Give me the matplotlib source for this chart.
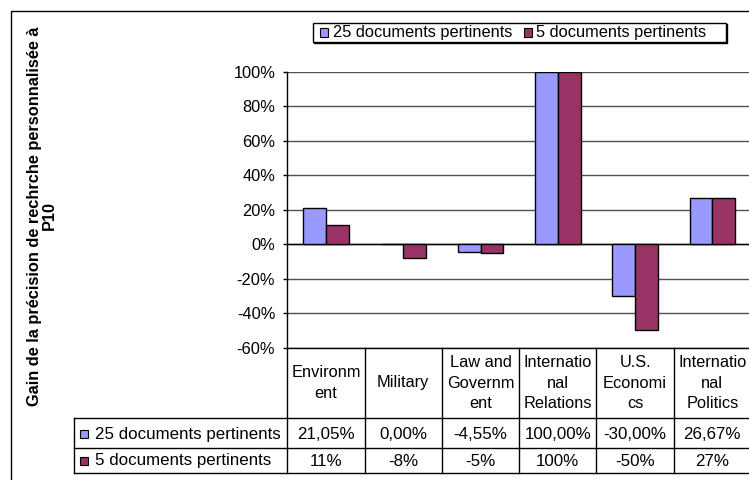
import numpy as np
import matplotlib
matplotlib.use("Agg")
import matplotlib.pyplot as plt
from matplotlib.patches import Rectangle
from matplotlib.ticker import PercentFormatter
from matplotlib.transforms import blended_transform_factory

plt.rcParams["font.family"] = ["Liberation Sans", "DejaVu Sans"]
plt.rcParams["axes.unicode_minus"] = False

# Data
categories = ["Environment", "Military", "Law and Government",
              "International Relations", "U.S. Economics", "International Politics"]
header_labels = ["Environm\nent", "Military", "Law and\nGovernm\nent",
                 "Internatio\nnal\nRelations", "U.S.\nEconomi\ncs", "Internatio\nnal\nPolitics"]
series_names = ["25 documents pertinents", "5 documents pertinents"]
docs25 = [21.05, 0.00, -4.55, 100.00, -30.00, 26.67]
docs5 = [11, -8, -5, 100, -50, 27]

BLUE = "#9999FF"
MAROON = "#993366"
colors = [BLUE, MAROON]
FS = 11.8
FS_TABLE = 12.2

W, H = 749, 480


def fx(x):
    return x / W


def fy(y):
    return 1 - y / H


fig = plt.figure(figsize=(W / 100, H / 100), dpi=100)

# outer chart border
fig.add_artist(Rectangle((fx(11), fy(492)), fx(760) - fx(11), fy(11) - fy(492),
                         transform=fig.transFigure, fill=False, edgecolor="black", lw=1))

plot_left, plot_right, plot_top, plot_bottom = 287.3, 751.0, 72.0, 347.7
ax = fig.add_axes([fx(plot_left), fy(plot_bottom),
                   (plot_right - plot_left) / W, (plot_bottom - plot_top) / H])

x = np.arange(len(categories))
bw = 0.294
vals = [np.array(docs25) / 100, np.array(docs5) / 100]
for i, (v, c) in enumerate(zip(vals, colors)):
    ax.bar(x + (i - 0.5) * bw, v, bw, color=c, edgecolor="black", lw=1, zorder=3)

ax.set_xlim(-0.5, 5.5)
ax.set_ylim(-0.6, 1.0)
ax.set_yticks(np.arange(-0.6, 1.01, 0.2))
ax.yaxis.set_major_formatter(PercentFormatter(1.0, decimals=0))
ax.set_xticks([])
ax.yaxis.grid(True, color="#505050", lw=1)
ax.set_axisbelow(True)
ax.axhline(0, color="black", lw=1, zorder=2)
for s in ["top", "right", "bottom"]:
    ax.spines[s].set_visible(False)
ax.spines["left"].set_linewidth(1)
ax.tick_params(axis="y", length=3.2, width=1, pad=5.5, labelsize=FS, colors="black")

# data table under the plot
trans = blended_transform_factory(ax.transData, fig.transFigure)
line_kw = dict(color="black", lw=1, clip_on=False)
row_tops = [418.3, 447.5, 473.0]
fig.add_artist(plt.Line2D([fx(plot_left), fx(760)], [fy(plot_bottom)] * 2,
                          transform=fig.transFigure, **line_kw))
for y in row_tops:
    fig.add_artist(plt.Line2D([fx(74), fx(760)], [fy(y)] * 2,
                              transform=fig.transFigure, **line_kw))
fig.add_artist(plt.Line2D([fx(74), fx(74)], [fy(418.3), fy(473.0)],
                          transform=fig.transFigure, **line_kw))
for b in np.arange(-0.5, 6.0, 1.0):
    ax.plot([b, b], [fy(plot_bottom), fy(473.0)], transform=trans, **line_kw)

for i, lab in enumerate(header_labels):
    ax.text(i, fy(383), lab, transform=trans, ha="center", va="center",
            fontsize=FS, linespacing=1.42)

row1 = [f"{v:.2f}%".replace(".", ",") for v in docs25]
row2 = [f"{v}%" for v in docs5]
for i in range(len(categories)):
    ax.text(i, fy(434.5), row1[i], transform=trans, ha="center", va="center", fontsize=FS_TABLE)
    ax.text(i, fy(461.0), row2[i], transform=trans, ha="center", va="center", fontsize=FS_TABLE)

for yc, name, c in zip([434.0, 460.5], series_names, colors):
    fig.add_artist(Rectangle((fx(80), fy(yc + 4)), 8 / W, 8 / H, transform=fig.transFigure,
                             facecolor=c, edgecolor="black", lw=0.8))
    fig.text(fx(95), fy(yc), name, ha="left", va="center", fontsize=FS_TABLE)

# legend box at the top
lx0, ly0, lx1, ly1 = 312.7, 23.3, 726.0, 42.3
fig.add_artist(Rectangle((fx(lx0 + 1), fy(ly1 + 1)), (lx1 - lx0) / W, (ly1 - ly0) / H,
                         transform=fig.transFigure, facecolor="black", edgecolor="black", lw=1))
fig.add_artist(Rectangle((fx(lx0), fy(ly1)), (lx1 - lx0) / W, (ly1 - ly0) / H,
                         transform=fig.transFigure, facecolor="white", edgecolor="black", lw=1))
for kx, tx, name, c in zip([320, 524], [333, 536], series_names, colors):
    fig.add_artist(Rectangle((fx(kx), fy(36.5)), 8 / W, 8 / H, transform=fig.transFigure,
                             facecolor=c, edgecolor="black", lw=0.8))
    fig.text(fx(tx), fy(32.5), name, ha="left", va="center", fontsize=FS)

fig.text(fx(42), fy(216), "Gain de la précision de rechrche personnalisée à\nP10",
         rotation=90, ha="center", va="center", fontsize=FS, fontweight="bold",
         linespacing=1.0, multialignment="center")

fig.savefig("out.png", dpi=100)
